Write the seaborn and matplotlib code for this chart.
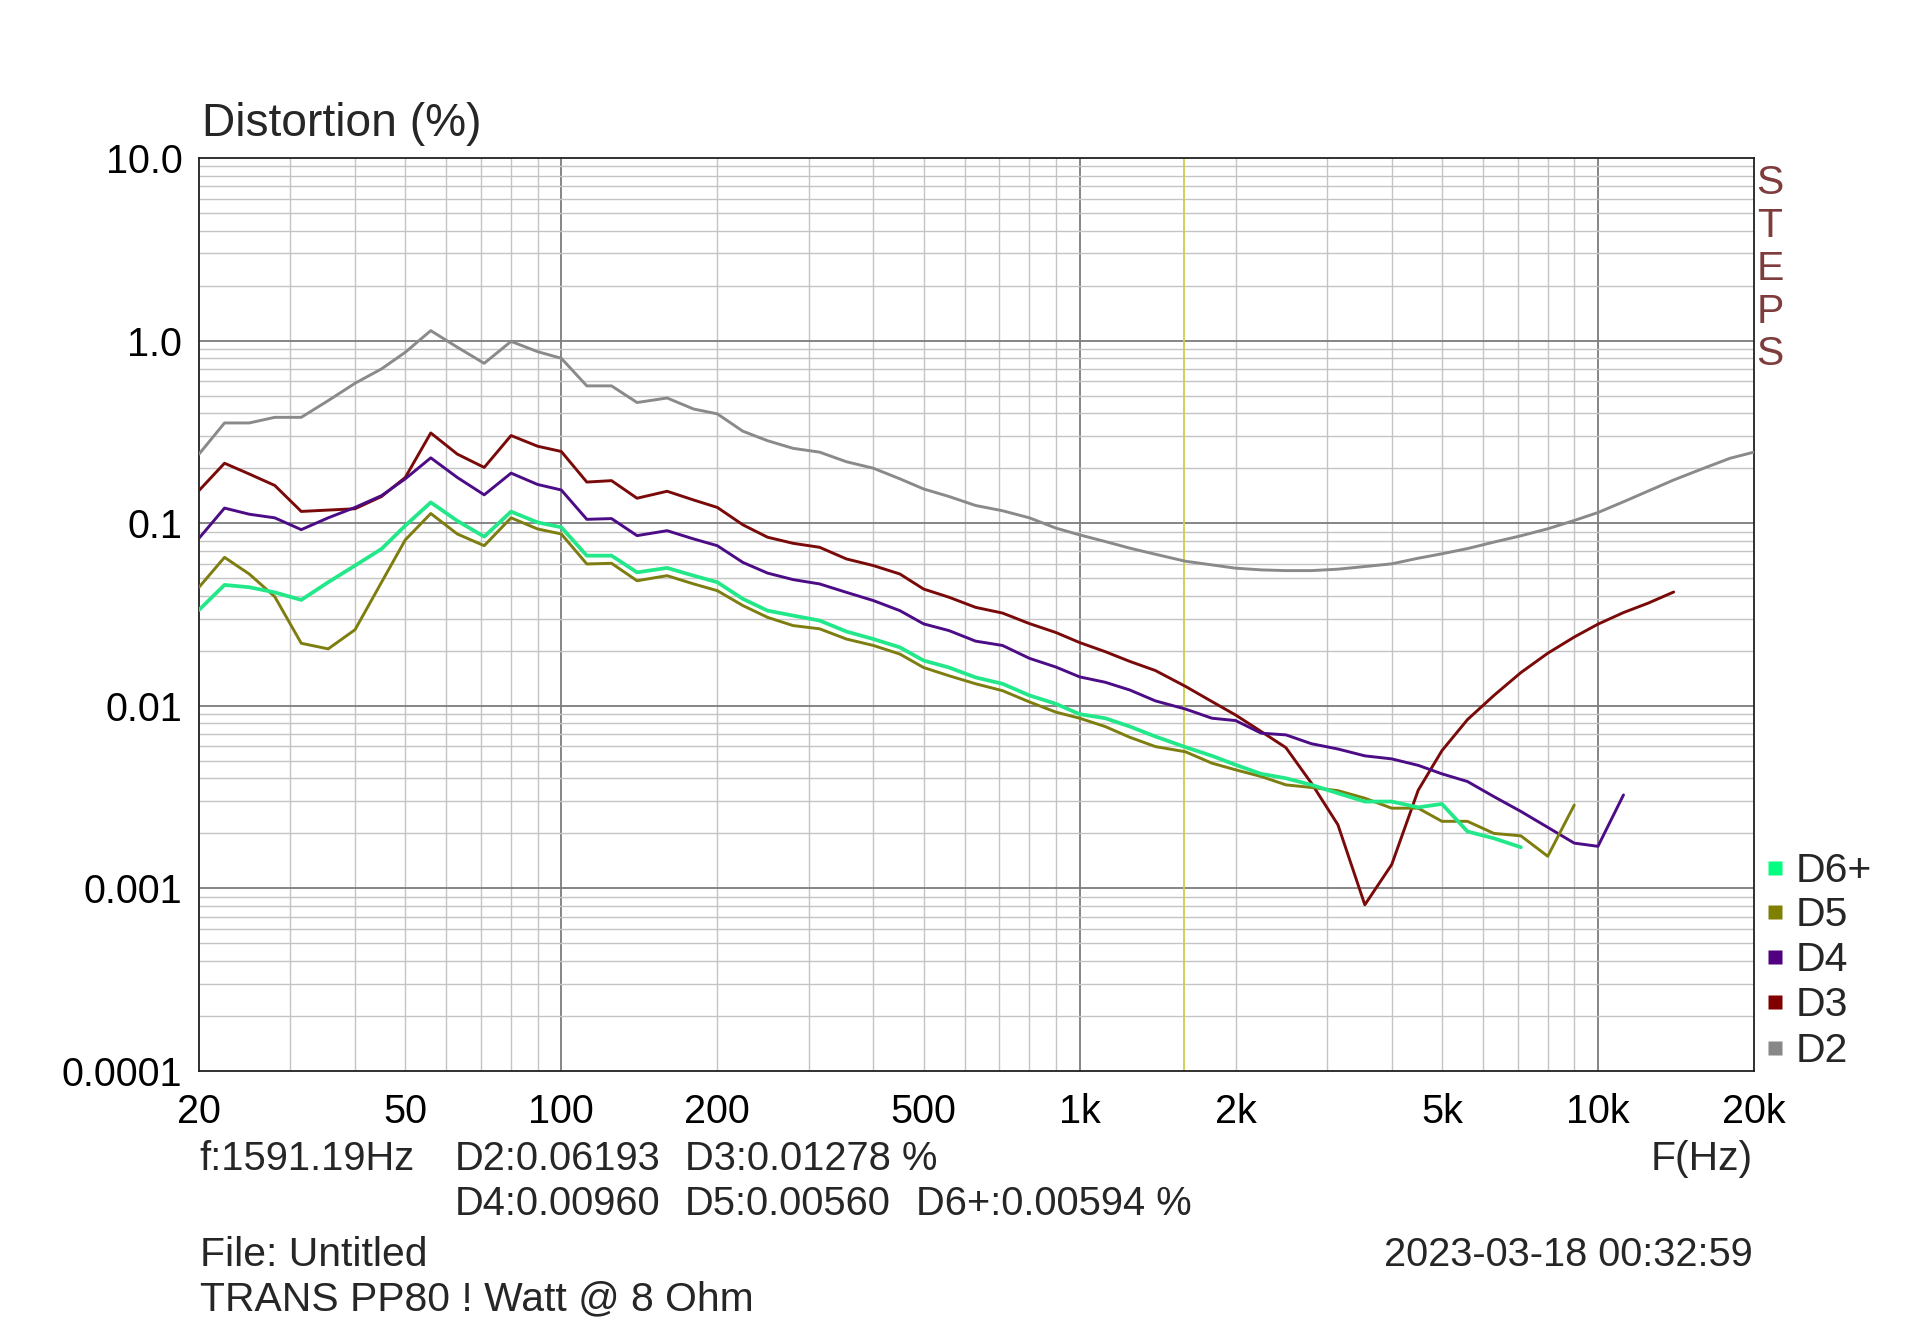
import numpy as np
import pandas as pd
import matplotlib
matplotlib.use("Agg")
import matplotlib.pyplot as plt
from matplotlib.lines import Line2D
import seaborn as sns

# ---------------- data ----------------
freqs = [20, 22.4, 25, 28, 31.5, 35.5, 40, 45, 50, 56, 63, 71, 80, 90,
         100, 112, 125, 140, 160, 180, 200, 224, 250, 280, 315, 355, 400, 450, 500, 560, 630, 710, 800, 900,
         1000, 1120, 1250, 1400, 1600, 1800, 2000, 2240, 2500, 2800, 3150, 3550, 4000, 4500, 5000, 5600, 6300, 7100, 8000, 9000,
         10000, 11200, 12500, 14000, 16000, 18000, 20000]

d2 = [0.239, 0.354, 0.354, 0.380, 0.380, 0.469, 0.584, 0.70, 0.863, 1.134, 0.92, 0.751, 0.99, 0.87,
      0.80, 0.565, 0.565, 0.458, 0.485, 0.422, 0.397, 0.319, 0.283, 0.257, 0.245, 0.217, 0.200, 0.175, 0.154, 0.140, 0.125, 0.117, 0.107, 0.094,
      0.0863, 0.0794, 0.073, 0.0676, 0.0619, 0.0591, 0.0567, 0.0555, 0.055, 0.055, 0.056, 0.0579, 0.0599, 0.0643, 0.068, 0.0726, 0.0788, 0.0853, 0.0932, 0.1035,
      0.1144, 0.131, 0.150, 0.1725, 0.200, 0.227, 0.245]

d3 = [0.151, 0.213, 0.186, 0.161, 0.116, 0.118, 0.120, 0.140, 0.178, 0.312, 0.239, 0.202, 0.302, 0.264,
      0.247, 0.168, 0.171, 0.137, 0.1496, 0.134, 0.122, 0.098, 0.0838, 0.0776, 0.0738, 0.0637, 0.0586, 0.0527, 0.0436, 0.0393, 0.0346, 0.0322, 0.0282, 0.0252,
      0.0222, 0.0198, 0.0175, 0.0156, 0.01278, 0.01055, 0.0089, 0.00723, 0.0059, 0.00377, 0.00223, 0.000813, 0.00135, 0.00345, 0.00568, 0.0084, 0.0114, 0.0152, 0.0194, 0.0238,
      0.028, 0.0324, 0.0365, 0.042]

d4 = [0.0827, 0.121, 0.112, 0.107, 0.0922, 0.107, 0.122, 0.1416, 0.175, 0.228, 0.178, 0.143, 0.188, 0.163,
      0.152, 0.105, 0.106, 0.0855, 0.091, 0.082, 0.0753, 0.061, 0.0533, 0.0491, 0.0465, 0.0418, 0.0377, 0.0332, 0.0281, 0.0258, 0.0226, 0.0214, 0.0182, 0.0163,
      0.0144, 0.01346, 0.0122, 0.01064, 0.0096, 0.00855, 0.0083, 0.00708, 0.00693, 0.0062, 0.0058, 0.00532, 0.00512, 0.00472, 0.00424, 0.00385, 0.00318, 0.00264, 0.00216, 0.00177,
      0.0017, 0.00325]

d5 = [0.0446, 0.065, 0.0527, 0.0396, 0.022, 0.0205, 0.0261, 0.0475, 0.081, 0.113, 0.0873, 0.0753, 0.107, 0.093,
      0.0873, 0.0598, 0.0603, 0.0484, 0.0516, 0.0465, 0.0427, 0.0354, 0.0305, 0.0275, 0.0264, 0.0232, 0.0214, 0.0192, 0.0162, 0.0146, 0.0132, 0.0121, 0.0105, 0.00923,
      0.00855, 0.0077, 0.00672, 0.00598, 0.0056, 0.00485, 0.00446, 0.0041, 0.00369, 0.00357, 0.00343, 0.00312, 0.00275, 0.00275, 0.00233, 0.00233, 0.002, 0.00194, 0.0015, 0.00286]

d6 = [0.0335, 0.0459, 0.0446, 0.0418, 0.038, 0.0475, 0.0586, 0.0723, 0.097, 0.130, 0.103, 0.0844, 0.1157, 0.101,
      0.095, 0.0664, 0.0664, 0.0538, 0.0569, 0.0516, 0.0475, 0.0385, 0.0332, 0.0312, 0.0293, 0.0255, 0.0232, 0.0209, 0.0177, 0.0162, 0.0143, 0.0132, 0.0114, 0.01025,
      0.009, 0.00855, 0.0077, 0.00679, 0.00594, 0.00532, 0.00475, 0.00424, 0.00401, 0.00369, 0.00332, 0.00299, 0.00299, 0.00278, 0.0029, 0.00205, 0.00188, 0.00168]

series_names = ["D2", "D3", "D4", "D5", "D6+"]
series_values = [d2, d3, d4, d5, d6]
series_colors = ["#8a8a8a", "#7a0a0a", "#4c0c86", "#7d7d10", "#22e88a"]
legend_colors = ["#888888", "#800000", "#500080", "#808000", "#00ff80"]

yticks = [0.0001, 0.001, 0.01, 0.1, 1.0, 10.0]
ytick_labels = ["0.0001", "0.001", "0.01", "0.1", "1.0", "10.0"]
xticks = [20, 50, 100, 200, 500, 1000, 2000, 5000, 10000, 20000]
xtick_labels = ["20", "50", "100", "200", "500", "1k", "2k", "5k", "10k", "20k"]

cursor_freq = 1591.19
readout_line1 = ["f:1591.19Hz", "D2:0.06193", "D3:0.01278 %"]
readout_line2 = ["D4:0.00960", "D5:0.00560", "D6+:0.00594 %"]

rows = []
for name, vals in zip(series_names, series_values):
    for f, v in zip(freqs, vals):
        rows.append({"freq": f, "value": v, "series": name})
df = pd.DataFrame(rows)

# ---------------- style ----------------
sns.set_style("white")
plt.rcParams["font.family"] = ["Liberation Sans", "DejaVu Sans"]

W, H = 1919, 1322
fig = plt.figure(figsize=(W / 100, H / 100), dpi=100)
L, R, T, B = 199, 1754, 158, 1071
ax = fig.add_axes([L / W, 1 - B / H, (R - L) / W, (B - T) / H])

ax.set_xscale("log")
ax.set_yscale("log")
ax.set_xlim(20, 20000)
ax.set_ylim(1e-4, 10)

# grid lines
for d in [10, 100, 1000, 10000]:
    for k in range(1, 10):
        f = k * d
        if 20 < f < 20000:
            major = (k == 1)
            ax.axvline(f, color="#7c7c7c" if major else "#c4c4c4", lw=1.3 if major else 1.0, zorder=0)
for d in [1e-4, 1e-3, 1e-2, 1e-1, 1.0]:
    for k in range(1, 10):
        v = k * d
        if 1e-4 < v < 10:
            major = (k == 1)
            ax.axhline(v, color="#7c7c7c" if major else "#c4c4c4", lw=1.3 if major else 1.0, zorder=0)

ax.axvline(cursor_freq, color="#cfcc4a", lw=1.3, zorder=1)

palette = dict(zip(series_names, series_colors))
sns.lineplot(data=df, x="freq", y="value", hue="series", hue_order=series_names,
             palette=palette, estimator=None, sort=True, legend=False, ax=ax, lw=2.1, zorder=3)
for line, name in zip(ax.get_lines()[-len(series_names):], series_names):
    if name == "D6+":
        line.set_linewidth(2.7)

ax.set_xlim(20, 20000)
ax.set_ylim(1e-4, 10)
ax.set_xticks(xticks, xtick_labels)
ax.set_yticks(yticks, ytick_labels)
ax.minorticks_off()
ax.tick_params(axis="both", which="both", length=0, labelsize=28.5, colors="black")
ax.tick_params(axis="x", pad=16)
ax.tick_params(axis="y", pad=12)
ax.set_xlabel("")
ax.set_ylabel("")
for s in ax.spines.values():
    s.set_color("#202020")
    s.set_linewidth(1.3)

# titles and texts
fs = 29.4
fs_read = 28.7
fig.text(202 / W, 1 - 124 / H, "Distortion (%)", fontsize=33.2, ha="left", va="center")
fig.text(1753 / W, 1 - 1159 / H, "F(Hz)", fontsize=fs, ha="right", va="center")

xs1 = [199.5, 455, 685]
for x, s in zip(xs1, readout_line1):
    fig.text(x / W, 1 - 1159 / H, s, fontsize=fs_read, ha="left", va="center")
xs2 = [455, 685, 915.5]
for x, s in zip(xs2, readout_line2):
    fig.text(x / W, 1 - 1204 / H, s, fontsize=fs_read, ha="left", va="center")

fig.text(199.5 / W, 1 - 1255 / H, "File: Untitled", fontsize=fs, ha="left", va="center")
fig.text(199.5 / W, 1 - 1299 / H, "TRANS PP80 ! Watt @ 8 Ohm", fontsize=fs, ha="left", va="center")
fig.text(1753 / W, 1 - 1255 / H, "2023-03-18 00:32:59", fontsize=28.6, ha="right", va="center")

for letter, y in zip("STEPS", [183, 226, 269, 312, 354]):
    fig.text(1770 / W, 1 - y / H, letter, fontsize=29.5, color="#7e3c3c", ha="center", va="center")

# legend (reverse order), placed manually at the right
leg_y = [868, 912, 957, 1002, 1048]
for y, name, col in zip(leg_y, series_names[::-1], legend_colors[::-1]):
    fig.add_artist(Line2D([1775 / W], [1 - y / H], transform=fig.transFigure, marker="s",
                          linestyle="none", markersize=10, markerfacecolor=col, markeredgecolor="none"))
    fig.text(1795.5 / W, 1 - (y + 3) / H, name, fontsize=29.5, ha="left", va="center")

fig.savefig("out.png", dpi=100, facecolor="white")
